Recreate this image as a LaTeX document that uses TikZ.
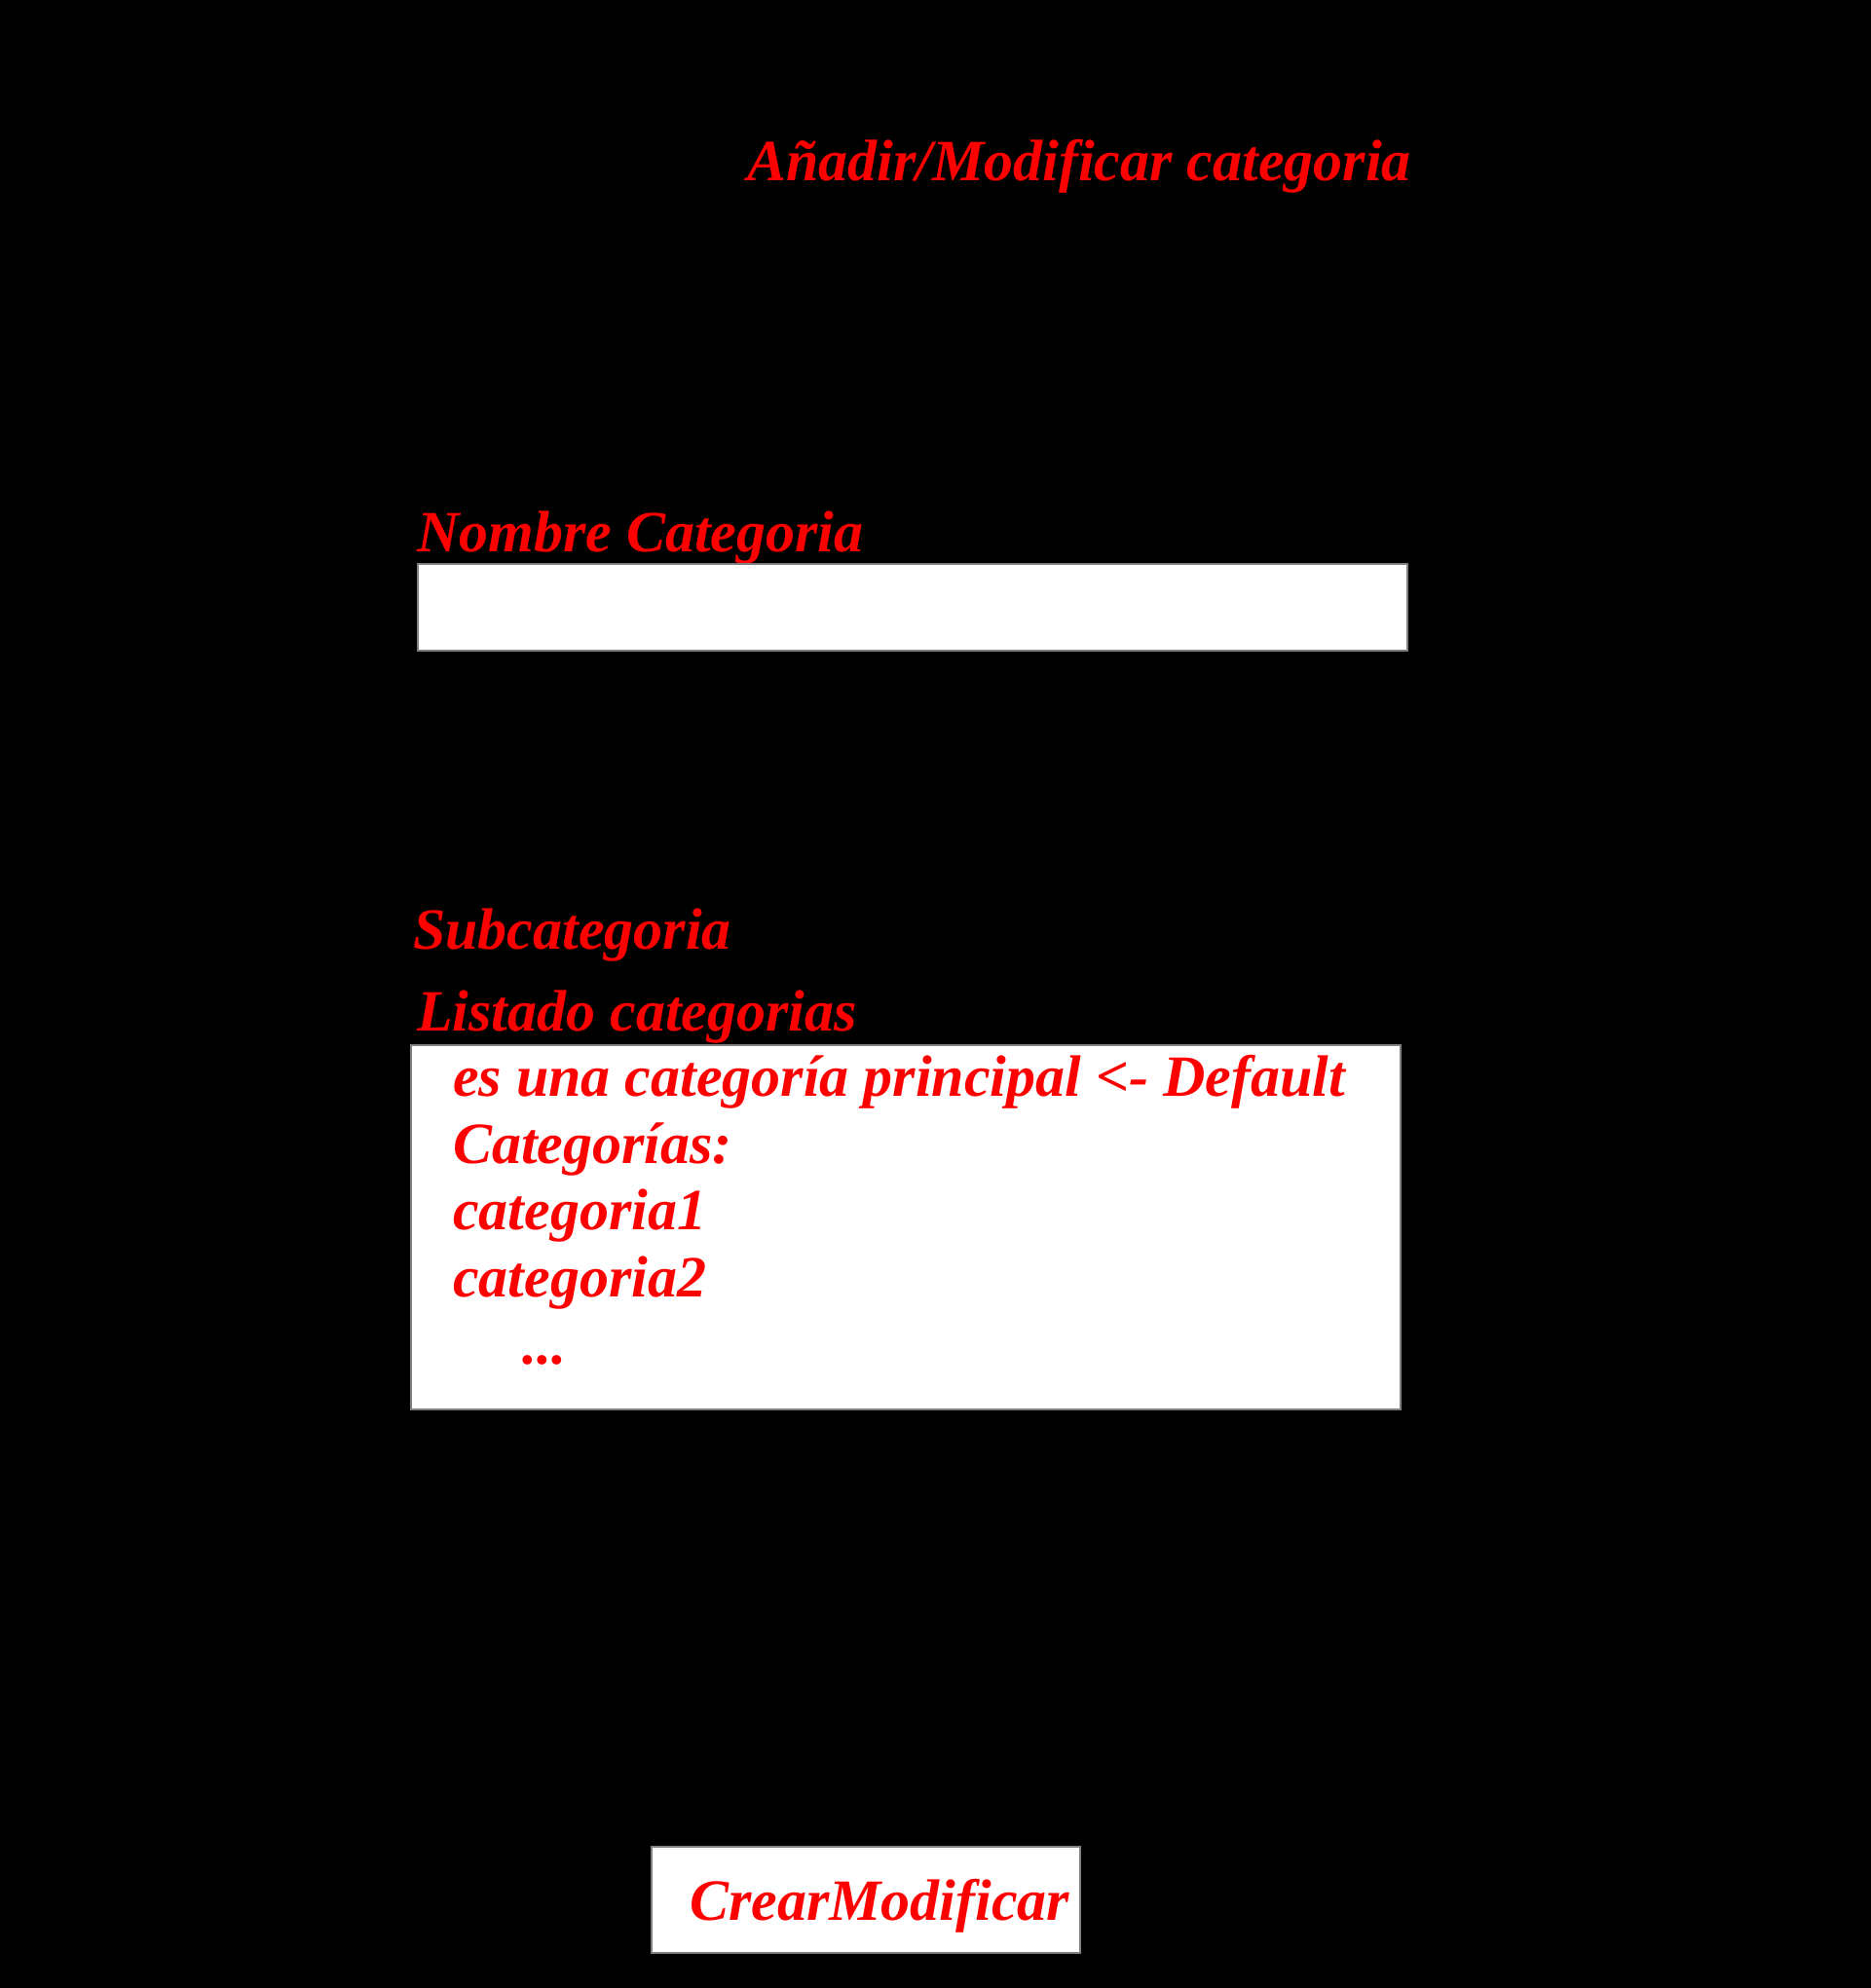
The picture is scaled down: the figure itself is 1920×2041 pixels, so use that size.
\documentclass[tikz,border=0pt]{standalone}
\usepackage{fontspec}
\setmainfont{Liberation Serif}
\begin{document}
\begin{tikzpicture}[x=1pt,y=-1pt,
  lbl/.style={anchor=base west,inner sep=0pt,text=red,font=\fontsize{60}{70}\selectfont\bfseries\itshape},
  wbox/.style={fill=white,draw=gray,line width=1.2pt}]
\useasboundingbox (0,0) rectangle (1920,2041);
\fill[black] (-10,-10) rectangle (1930,2051);
\node[lbl] (title) at (767,186) {Añadir/Modificar categoria};
\node[lbl] (nombre) at (428,566) {Nombre Categoria};
\draw[wbox] (429,579) rectangle (1445,668);
\coordinate (nbox) at (429,579);
\node[lbl] (sub) at (424,974) {Subcategoria};
\node[lbl] (listado) at (428,1058) {Listado categorias};
\draw[wbox] (422,1073) rectangle (1438,1447);
\node[lbl] (l1) at (465,1125) {es una categoría principal <- Default};
\node[lbl] (l2) at (465,1194) {Categorías:};
\node[lbl] (l3) at (465,1262) {categoria1};
\node[lbl] (l4) at (465,1331) {categoria2};
\node[lbl] (l5) at (536,1400) {...};
\draw[wbox] (669,1896) rectangle (1109,2005);
\node[lbl] (btn) at (708,1971) {CrearModificar};
\end{tikzpicture}
\end{document}
